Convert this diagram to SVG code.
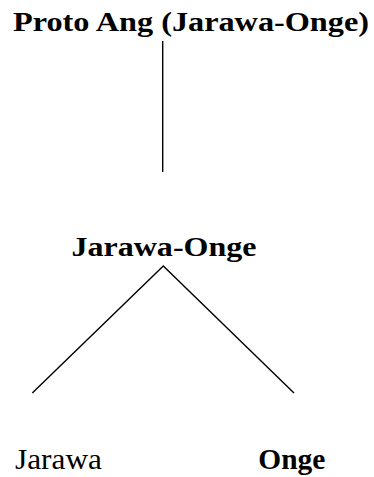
<svg xmlns="http://www.w3.org/2000/svg" width="374" height="477" viewBox="0 0 374 477">
  <style>
    .t { font-family: "Liberation Serif", "Times New Roman", serif; fill: #000; }
    .b { font-weight: bold; }
    .edge { stroke: #000; stroke-width: 1.4; fill: none; }
  </style>
  <rect width="374" height="477" fill="#fff"/>
  <g id="connectors">
    <line class="edge" x1="162.7" y1="41" x2="162.7" y2="172"/>
    <polyline class="edge" points="32.3,393 163.3,266 294,393"/>
  </g>
  <g id="proto">
    <text class="t b" x="13" y="30.7" font-size="28" textLength="356" lengthAdjust="spacingAndGlyphs">Proto Ang (Jarawa-Onge)</text>
  </g>
  <g id="jarawa-onge">
    <text class="t b" x="71.5" y="256" font-size="28" textLength="185" lengthAdjust="spacingAndGlyphs">Jarawa-Onge</text>
  </g>
  <g id="jarawa">
    <text class="t" x="15" y="468.5" font-size="29" textLength="87" lengthAdjust="spacingAndGlyphs">Jarawa</text>
  </g>
  <g id="onge">
    <text class="t b" x="258.3" y="468.5" font-size="29.5" textLength="67" lengthAdjust="spacingAndGlyphs">Onge</text>
  </g>
</svg>
